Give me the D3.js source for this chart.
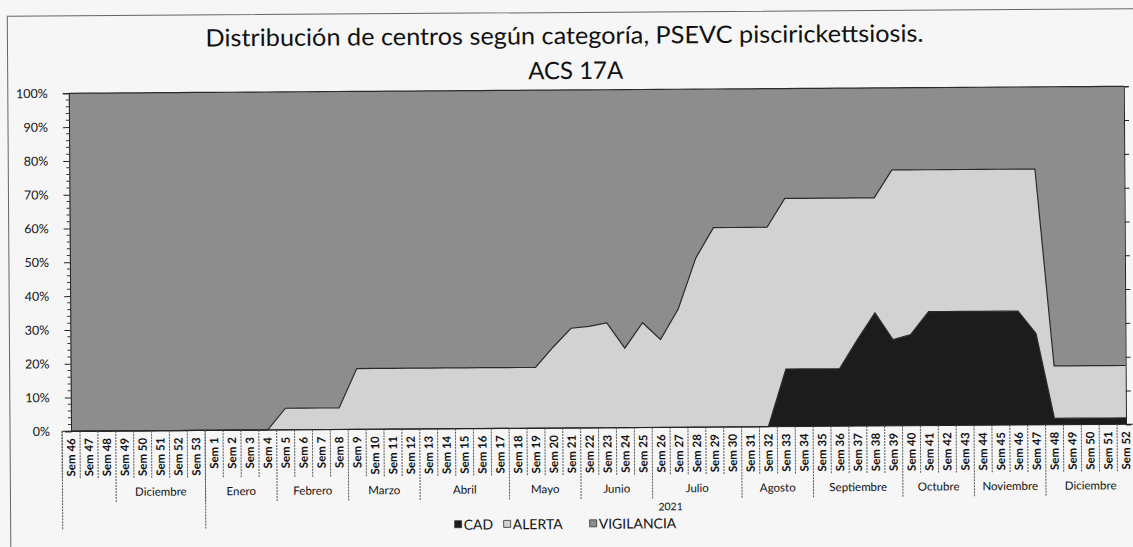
<!DOCTYPE html>
<html>
<head>
<meta charset="utf-8">
<script src="https://cdn.jsdelivr.net/npm/d3@7"></script>
<style>
  body { margin: 0; background: #f6f6f6; }
  svg { display: block; }
</style>
</head>
<body>
<div id="chart"></div>
<script>
// Weeks of the ACS 17A follow-up (end of 2020 + 2021)
const weeks = [
  'Sem 46', 'Sem 47', 'Sem 48', 'Sem 49', 'Sem 50', 'Sem 51', 'Sem 52', 'Sem 53',
  'Sem 1', 'Sem 2', 'Sem 3', 'Sem 4', 'Sem 5', 'Sem 6', 'Sem 7', 'Sem 8', 'Sem 9', 'Sem 10',
  'Sem 11', 'Sem 12', 'Sem 13', 'Sem 14', 'Sem 15', 'Sem 16', 'Sem 17', 'Sem 18', 'Sem 19', 'Sem 20',
  'Sem 21', 'Sem 22', 'Sem 23', 'Sem 24', 'Sem 25', 'Sem 26', 'Sem 27', 'Sem 28', 'Sem 29', 'Sem 30',
  'Sem 31', 'Sem 32', 'Sem 33', 'Sem 34', 'Sem 35', 'Sem 36', 'Sem 37', 'Sem 38', 'Sem 39', 'Sem 40',
  'Sem 41', 'Sem 42', 'Sem 43', 'Sem 44', 'Sem 45', 'Sem 46', 'Sem 47', 'Sem 48', 'Sem 49', 'Sem 50',
  'Sem 51', 'Sem 52'
];

// share of centres per category (%)
const cad = [
  0, 0, 0, 0, 0, 0, 0, 0,
  0, 0, 0, 0, 0, 0, 0, 0, 0, 0,
  0, 0, 0, 0, 0, 0, 0, 0, 0, 0,
  0, 0, 0, 0, 0, 0, 0, 0, 0, 0,
  0, 0, 17, 17, 17, 17, 25.5, 33.5, 25.5, 27,
  33.7, 33.7, 33.7, 33.7, 33.7, 33.7, 27, 1.9, 1.9, 1.9,
  1.9, 1.9
];
const alerta = [
  0, 0, 0, 0, 0, 0, 0, 0,
  0, 0, 0, 0, 6.4, 6.4, 6.4, 6.4, 18, 18,
  18, 18, 18, 18, 18, 18, 18, 18, 18, 24,
  29.5, 30, 31, 23.5, 31, 26, 35, 50, 59, 59,
  59, 59, 50.5, 50.5, 50.5, 50.5, 42, 34, 50.2, 48.7,
  42, 42, 42, 42, 42, 42, 48.7, 15.5, 15.5, 15.5,
  15.5, 15.5
];
const vigilancia = [
  100, 100, 100, 100, 100, 100, 100, 100,
  100, 100, 100, 100, 93.6, 93.6, 93.6, 93.6, 82, 82,
  82, 82, 82, 82, 82, 82, 82, 82, 82, 76,
  70.5, 70, 69, 76.5, 69, 74, 65, 50, 41, 41,
  41, 41, 32.5, 32.5, 32.5, 32.5, 32.5, 32.5, 24.3, 24.3,
  24.3, 24.3, 24.3, 24.3, 24.3, 24.3, 24.3, 82.6, 82.6, 82.6,
  82.6, 82.6
];

// second and third level of the category axis
const monthNames = ['', 'Diciembre', 'Enero', 'Febrero', 'Marzo', 'Abril', 'Mayo', 'Junio',
  'Julio', 'Agosto', 'Septiembre', 'Octubre', 'Noviembre', 'Diciembre'];
const monthSpans = [3, 5, 4, 4, 4, 5, 4, 4, 5, 4, 5, 4, 4, 5];
const yearNames = ['', '2021'];
const yearSpans = [8, 52];

const seriesKeys = ['CAD', 'ALERTA', 'VIGILANCIA'];
const seriesColors = { CAD: '#1c1c1c', ALERTA: '#d2d2d2', VIGILANCIA: '#8d8d8d' };
const yTicks = [0, 0.1, 0.2, 0.3, 0.4, 0.5, 0.6, 0.7, 0.8, 0.9, 1];

const width = 1133;
const height = 547;
const font = 'Lato, "Open Sans", "DejaVu Sans", sans-serif';

const table = weeks.map((w, i) => ({ week: i, CAD: cad[i], ALERTA: alerta[i], VIGILANCIA: vigilancia[i] }));
const stacked = d3.stack().keys(seriesKeys).offset(d3.stackOffsetExpand)(table);

const plot = { left: 70, right: 1125, top: 90, bottom: 428 };

const x = d3.scalePoint().domain(d3.range(weeks.length)).range([plot.left, plot.right]);
const step = x.step();
const y = d3.scaleLinear().domain([0, 1]).range([plot.bottom, plot.top]);

const svg = d3.select('#chart').append('svg')
  .attr('width', width)
  .attr('height', height)
  .style('background', '#f6f6f6');

// the scanned page is slightly tilted
const root = svg.append('g').attr('transform', 'rotate(-0.38, 566, 273)');

// chart frame
root.append('rect')
  .attr('x', 9).attr('y', 12.5)
  .attr('width', 1160).attr('height', 600)
  .attr('fill', 'none')
  .attr('stroke', '#666')
  .attr('stroke-width', 1);

// title, two lines
root.append('text')
  .attr('x', 566).attr('y', 44)
  .attr('text-anchor', 'middle')
  .attr('textLength', 718)
  .attr('lengthAdjust', 'spacingAndGlyphs')
  .style('font-family', font)
  .style('font-size', '24px')
  .style('fill', '#111')
  .text('Distribución de centros según categoría, PSEVC piscirickettsiosis.');
root.append('text')
  .attr('x', 577).attr('y', 79)
  .attr('text-anchor', 'middle')
  .style('font-family', font)
  .style('font-size', '24px')
  .style('fill', '#111')
  .text('ACS 17A');

// stacked areas
const area = d3.area()
  .x((d, i) => x(i))
  .y0((d) => y(d[0]))
  .y1((d) => y(d[1]));

root.append('g').selectAll('path')
  .data(stacked)
  .join('path')
  .attr('d', area)
  .attr('fill', (d) => seriesColors[d.key]);

// dark outline along the top of each series
const topLine = d3.line()
  .x((d, i) => x(i))
  .y((d) => y(d[1]));

root.append('g').selectAll('path')
  .data(stacked)
  .join('path')
  .attr('d', topLine)
  .attr('fill', 'none')
  .attr('stroke', '#2a2a2a')
  .attr('stroke-width', 1.2);

// left axis with minor ticks
const yAxis = d3.axisLeft(y).tickValues(yTicks).tickFormat(d3.format('.0%')).tickSize(6).tickPadding(15);
const gy = root.append('g').attr('transform', `translate(${plot.left},0)`).call(yAxis);
gy.select('.domain').attr('stroke', '#222');
gy.selectAll('.tick line').attr('stroke', '#222');
gy.selectAll('.tick text')
  .style('font-family', font)
  .style('font-size', '12.5px')
  .style('fill', '#111');

const minorTicks = d3.range(0, 1.0001, 0.02).filter((v) => Math.round(v * 100) % 10 !== 0);
gy.selectAll('line.minor')
  .data(minorTicks)
  .join('line')
  .attr('class', 'minor')
  .attr('x1', -3).attr('x2', 0)
  .attr('y1', (d) => y(d)).attr('y2', (d) => y(d))
  .attr('stroke', '#333');

// right axis, ticks only
const yAxisRight = d3.axisRight(y).tickValues(yTicks).tickFormat('').tickSize(5);
const gyr = root.append('g').attr('transform', `translate(${plot.right},0)`).call(yAxisRight);
gyr.select('.domain').attr('stroke', '#222');
gyr.selectAll('.tick line').attr('stroke', '#222');

// bottom axis line
root.append('line')
  .attr('x1', plot.left - step / 2).attr('x2', plot.right + step / 2)
  .attr('y1', plot.bottom).attr('y2', plot.bottom)
  .attr('stroke', '#222');

// category axis: week labels
const rowWeekBottom = plot.bottom + 48;
const rowMonthBottom = rowWeekBottom + 24;
const rowYearBottom = rowMonthBottom + 26;

const gx = root.append('g');
gx.selectAll('text.week')
  .data(weeks)
  .join('text')
  .attr('class', 'week')
  .attr('transform', (d, i) => `translate(${x(i) + 4},${plot.bottom + 7}) rotate(-90)`)
  .attr('text-anchor', 'end')
  .style('font-family', font)
  .style('font-size', '11.5px')
  .style('font-weight', 700)
  .style('fill', '#111')
  .text((d) => d);

gx.selectAll('line.weeksep')
  .data(d3.range(weeks.length + 1))
  .join('line')
  .attr('class', 'weeksep')
  .attr('x1', (i) => plot.left + (i - 0.5) * step)
  .attr('x2', (i) => plot.left + (i - 0.5) * step)
  .attr('y1', plot.bottom)
  .attr('y2', rowWeekBottom)
  .attr('stroke', '#555')
  .attr('stroke-dasharray', '2,1');

// month level
let start = 0;
const months = monthNames.map((name, k) => {
  const m = { name, start, end: start + monthSpans[k] };
  start += monthSpans[k];
  return m;
});
gx.selectAll('text.month')
  .data(months)
  .join('text')
  .attr('class', 'month')
  .attr('x', (d) => plot.left + ((d.start + d.end) / 2 - 0.5) * step)
  .attr('y', rowWeekBottom + 17)
  .attr('text-anchor', 'middle')
  .style('font-family', font)
  .style('font-size', '11.5px')
  .style('fill', '#111')
  .text((d) => d.name);

gx.selectAll('line.monthsep')
  .data(months)
  .join('line')
  .attr('class', 'monthsep')
  .attr('x1', (d) => plot.left + (d.end - 0.5) * step)
  .attr('x2', (d) => plot.left + (d.end - 0.5) * step)
  .attr('y1', rowWeekBottom)
  .attr('y2', rowMonthBottom)
  .attr('stroke', '#555')
  .attr('stroke-dasharray', '2,1');

// year level
start = 0;
const years = yearNames.map((name, k) => {
  const yr = { name, start, end: start + yearSpans[k] };
  start += yearSpans[k];
  return yr;
});
gx.selectAll('text.year')
  .data(years)
  .join('text')
  .attr('class', 'year')
  .attr('x', (d) => plot.left + ((d.start + d.end) / 2 - 0.5) * step)
  .attr('y', rowMonthBottom + 11)
  .attr('text-anchor', 'middle')
  .style('font-family', font)
  .style('font-size', '10.5px')
  .style('fill', '#111')
  .text((d) => d.name);

gx.selectAll('line.yearsep')
  .data([0].concat(years.map((d) => d.end)))
  .join('line')
  .attr('class', 'yearsep')
  .attr('x1', (i) => plot.left + (i - 0.5) * step)
  .attr('x2', (i) => plot.left + (i - 0.5) * step)
  .attr('y1', plot.bottom)
  .attr('y2', rowYearBottom)
  .attr('stroke', '#555')
  .attr('stroke-dasharray', '2,1');

// legend
const legendX = [453, 502, 588];
const legend = root.append('g').attr('transform', 'translate(0,524)');
const items = legend.selectAll('g')
  .data(seriesKeys)
  .join('g')
  .attr('transform', (d, i) => `translate(${legendX[i]},0)`);
items.append('rect')
  .attr('x', 0).attr('y', -4)
  .attr('width', 7).attr('height', 7)
  .attr('fill', (d) => seriesColors[d])
  .attr('stroke', '#333')
  .attr('stroke-width', 0.8);
items.append('text')
  .attr('x', 9).attr('y', 5)
  .style('font-family', font)
  .style('font-size', '14px')
  .style('fill', '#111')
  .text((d) => d);
</script>
</body>
</html>
